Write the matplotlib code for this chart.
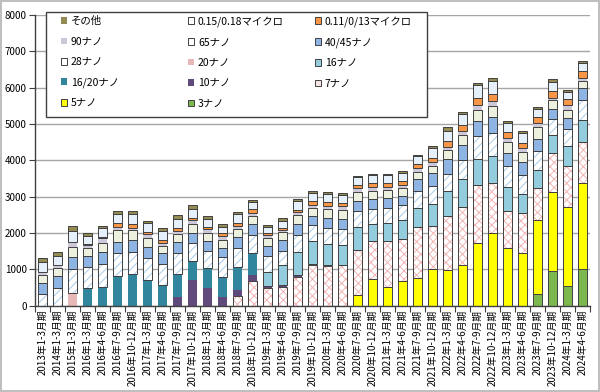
#
# plot.py
# Quarterly revenue stacked by process node (reference chart recreation).
#

import numpy as np
import matplotlib.pyplot as plt
from matplotlib.patches import Patch, Rectangle

plt.rcParams['font.family'] = ['Noto Sans CJK JP', 'DejaVu Sans']
plt.rcParams['hatch.linewidth'] = 0.7

# --- data ---
quarters = [
    '2013年1-3月期', '2014年1-3月期', '2015年1-3月期',
    '2016年1-3月期', '2016年4-6月期', '2016年7-9月期', '2016年10-12月期',
    '2017年1-3月期', '2017年4-6月期', '2017年7-9月期', '2017年10-12月期',
    '2018年1-3月期', '2018年4-6月期', '2018年7-9月期', '2018年10-12月期',
    '2019年1-3月期', '2019年4-6月期', '2019年7-9月期', '2019年10-12月期',
    '2020年1-3月期', '2020年4-6月期', '2020年7-9月期', '2020年10-12月期',
    '2021年1-3月期', '2021年4-6月期', '2021年7-9月期', '2021年10-12月期',
    '2022年1-3月期', '2022年4-6月期', '2022年7-9月期', '2022年10-12月期',
    '2023年1-3月期', '2023年4-6月期', '2023年7-9月期', '2023年10-12月期',
    '2024年1-3月期', '2024年4-6月期',
]

n3 = [0, 0, 0, 0, 0, 0, 0, 0, 0, 0, 0, 0, 0, 0, 0, 0, 0, 0, 0, 0, 0, 0, 0,
      0, 0, 0, 0, 0, 0, 0, 0, 0, 0, 328, 938, 533, 1010]
n5 = [0, 0, 0, 0, 0, 0, 0, 0, 0, 0, 0, 0, 0, 0, 0, 0, 0, 0, 0, 0, 0, 285, 723,
      507, 670, 746, 1008, 982, 1122, 1717, 2002, 1577, 1443, 2023, 2189, 2193, 2357]
n7 = [0, 0, 0, 0, 0, 0, 0, 0, 0, 0, 0, 0, 0, 271, 666, 470, 506, 791, 1110, 1087,
      1119, 1247, 1048, 1268, 1154, 1410, 1183, 1473, 1602, 1594, 1376, 1017, 1106,
      875, 1063, 1126, 1145]
n10 = [0, 0, 0, 0, 0, 0, 0, 0, 0, 243, 700, 475, 243, 156, 174, 70, 60, 50, 32, 15,
       0, 0, 0, 0, 0, 0, 0, 0, 0, 0, 0, 0, 0, 0, 0, 0, 0]
n16_20 = [0, 0, 0, 473, 500, 812, 857, 702, 565, 614, 520, 550, 551, 642, 608, 0, 0,
          0, 0, 0, 0, 0, 0, 0, 0, 0, 0, 0, 0, 0, 0, 0, 0, 0, 0, 0, 0]
n16 = [0, 0, 0, 0, 0, 0, 0, 0, 0, 0, 0, 0, 0, 0, 0, 370, 554, 645, 634, 590, 559, 642,
       480, 507, 521, 539, 613, 688, 748, 736, 751, 661, 529, 492, 500, 533, 606]
n20 = [0, 0, 350, 0, 0, 0, 0, 0, 0, 0, 0, 0, 0, 0, 0, 0, 0, 0, 0, 0, 0, 0, 0, 0, 0,
       0, 0, 0, 0, 0, 0, 0, 0, 0, 0, 0, 0]
n28 = [310, 490, 655, 597, 633, 624, 625, 597, 568, 579, 505, 475, 551, 505, 493, 460,
       386, 469, 444, 435, 435, 428, 398, 399, 409, 456, 482, 491, 534, 613, 626, 600,
       529, 547, 438, 474, 539]
n40_45 = [300, 320, 340, 293, 349, 322, 322, 303, 303, 303, 285, 275, 229, 322, 290, 260,
          289, 300, 254, 280, 280, 285, 289, 290, 261, 332, 350, 393, 427, 429, 438, 356,
          337, 328, 280, 296, 337]
n65 = [230, 230, 275, 211, 248, 321, 275, 266, 203, 221, 248, 230, 230, 201, 240, 230,
       217, 234, 220, 248, 249, 250, 217, 217, 223, 207, 219, 246, 267, 307, 313, 305,
       288, 328, 250, 237, 202]
n90 = [90, 70, 140, 92, 120, 92, 65, 90, 92, 100, 85, 90, 120, 92, 87, 70, 60, 80, 80,
       93, 93, 107, 108, 72, 74, 83, 88, 98, 107, 123, 125, 102, 96, 109, 70, 119, 67]
n011_013 = [0, 0, 0, 40, 45, 92, 92, 55, 73, 64, 60, 70, 70, 92, 87, 60, 72, 70, 95, 93,
            93, 71, 108, 109, 112, 124, 131, 147, 160, 184, 188, 153, 144, 164, 188, 178, 202]
n015_018 = [260, 250, 290, 210, 235, 248, 285, 248, 248, 270, 260, 210, 170, 230, 203, 170,
            193, 234, 222, 217, 217, 214, 217, 217, 223, 207, 263, 295, 320, 368, 375, 254,
            288, 219, 250, 178, 202]
other = [120, 100, 150, 90, 70, 91, 92, 75, 75, 95, 92, 80, 75, 73, 60, 50, 60, 59, 60,
         62, 62, 36, 36, 36, 60, 43, 44, 98, 53, 61, 63, 51, 48, 55, 63, 59, 67]

EDGE = '#404040'

# stacking order bottom -> top: (label, values, face, edged, hatch, hatch colour)
stack = [
    ('3ナノ', n3, '#7CB84E', True, None, None),
    ('5ナノ', n5, '#FFFF00', True, None, None),
    ('7ナノ', n7, '#FFFFFF', True, 'xxxx', '#F0B4B4'),
    ('10ナノ', n10, '#604A7B', False, None, None),
    ('16/20ナノ', n16_20, '#31859C', False, None, None),
    ('16ナノ', n16, '#93CDDD', True, None, None),
    ('20ナノ', n20, '#E6B9B8', False, None, None),
    ('28ナノ', n28, '#FFFFFF', True, '////', '#A8CBEA'),
    ('40/45ナノ', n40_45, '#8EB4E3', True, None, None),
    ('65ナノ', n65, '#EBF1DE', True, None, None),
    ('90ナノ', n90, '#CCC8DA', False, None, None),
    ('0.11/0/13マイクロ', n011_013, '#F79646', True, None, None),
    ('0.15/0.18マイクロ', n015_018, '#E6F0FA', True, None, None),
    ('その他', other, '#948A54', True, None, None),
]

fig = plt.figure(figsize=(6.0, 3.92), dpi=100)
ax = fig.add_axes([35 / 600, 1 - 305.5 / 392, 555 / 600, 290.5 / 392])

x = np.arange(len(quarters))
width = 0.55
bottom = np.zeros(len(quarters))

for label, vals, face, edged, hatch, hcol in stack:
    v = np.array(vals, dtype=float)
    m = v > 0
    if hatch:
        ax.bar(x[m], v[m], width, bottom=bottom[m], color=face,
               edgecolor=hcol, hatch=hatch, linewidth=0, zorder=2)
        ax.bar(x[m], v[m], width, bottom=bottom[m], fill=False,
               edgecolor=EDGE, linewidth=0.7, zorder=3)
    else:
        ax.bar(x[m], v[m], width, bottom=bottom[m], color=face,
               edgecolor=EDGE if edged else 'none',
               linewidth=0.7 if edged else 0, zorder=2)
    bottom += v

# axes styling
ax.set_xlim(-0.5, len(quarters) - 0.5)
ax.set_ylim(0, 8000)
ax.set_yticks(np.arange(0, 8001, 1000))
ax.yaxis.grid(True, color='#A6A6A6', linewidth=1.0)
ax.set_axisbelow(True)
ax.tick_params(axis='y', labelsize=7, length=4, color=EDGE, pad=2)

ax.set_xticks(np.arange(-0.5, len(quarters), 1))
ax.set_xticklabels([])
ax.set_xticks(x, minor=True)
ax.set_xticklabels(quarters, minor=True, rotation=90, fontsize=7)
ax.tick_params(axis='x', which='major', length=4, color=EDGE)
ax.tick_params(axis='x', which='minor', length=0, pad=3)

for side in ['top', 'right']:
    ax.spines[side].set_visible(False)
for side in ['left', 'bottom']:
    ax.spines[side].set_color(EDGE)
    ax.spines[side].set_linewidth(1.0)

# legend: framed box with three columns laid out row-wise
legend_style = {
    'その他': ('#948A54', False), '0.15/0.18マイクロ': ('#FFFFFF', True),
    '0.11/0/13マイクロ': ('#F79646', True), '90ナノ': ('#CCC8DA', False),
    '65ナノ': ('#FFFFFF', True), '40/45ナノ': ('#8EB4E3', True),
    '28ナノ': ('#FFFFFF', True), '20ナノ': ('#E6B9B8', False),
    '16ナノ': ('#93CDDD', True), '16/20ナノ': ('#31859C', False),
    '10ナノ': ('#604A7B', False), '7ナノ': ('#F6E4E4', True),
    '5ナノ': ('#FFFF00', True), '3ナノ': ('#7CB84E', True),
}
columns = [
    ['その他', '90ナノ', '28ナノ', '16/20ナノ', '5ナノ'],
    ['0.15/0.18マイクロ', '65ナノ', '20ナノ', '10ナノ', '3ナノ'],
    ['0.11/0/13マイクロ', '40/45ナノ', '16ナノ', '7ナノ'],
]
col_x = [61, 188, 315]

fig.add_artist(Rectangle((46 / 600, 1 - 117 / 392), 381 / 600, 105 / 392,
                         transform=fig.transFigure, facecolor='white',
                         edgecolor=EDGE, linewidth=1.0, zorder=4))
for cx, names in zip(col_x, columns):
    handles = []
    for name in names:
        face, edged = legend_style[name]
        handles.append(Patch(facecolor=face, edgecolor=EDGE if edged else 'none',
                             linewidth=0.7 if edged else 0))
    fig.legend(handles, names, loc='upper left',
               bbox_to_anchor=(cx / 600, 1 - 16 / 392), frameon=False,
               fontsize=7.5, handlelength=0.6, handleheight=0.6,
               handletextpad=0.35, labelspacing=1.0, borderpad=0,
               borderaxespad=0)

fig.patch.set_edgecolor('#BFBFBF')
fig.patch.set_linewidth(1.5)
fig.savefig('out.png', dpi=100, edgecolor=fig.get_edgecolor())
